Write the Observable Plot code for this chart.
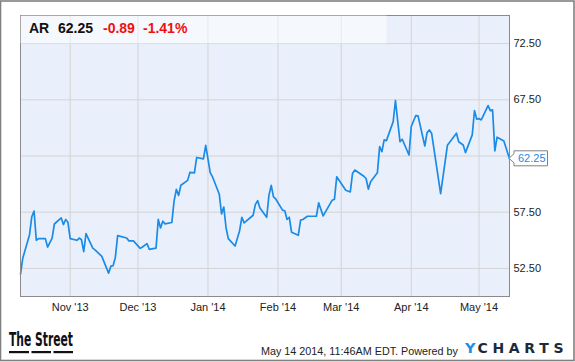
<!DOCTYPE html>
<html><head><meta charset="utf-8">
<script src="https://cdn.jsdelivr.net/npm/d3@7"></script>
<script src="https://cdn.jsdelivr.net/npm/@observablehq/plot@0.6"></script>
<style>
body{margin:0;background:#fff;}
#wrap{position:relative;width:575px;height:362px;overflow:hidden;background:#fff;}
#chart{position:absolute;left:0;top:0;}
#overlay{position:absolute;left:0;top:0;pointer-events:none;}
</style>
</head><body>
<div id="wrap">
  <div id="chart"></div>
  <svg id="overlay" width="575" height="362" xmlns="http://www.w3.org/2000/svg" font-family="'Liberation Sans', Arial, sans-serif">
    <rect x="20.5" y="15.5" width="366" height="28" fill="#ffffff" fill-opacity="0.5"></rect>
    <text x="29" y="33" font-size="14" font-weight="bold" fill="#111">AR</text>
    <text x="58" y="33" font-size="14" font-weight="bold" fill="#111">62.25</text>
    <text x="103" y="33" font-size="14" font-weight="bold" fill="#f01010">-0.89</text>
    <text x="143" y="33" font-size="14" font-weight="bold" fill="#f01010">-1.41%</text>
    <text x="9" y="346" font-size="19.5" font-weight="bold" fill="#111" textLength="64" lengthAdjust="spacingAndGlyphs" font-family="'Liberation Sans Narrow','DejaVu Sans Condensed','Liberation Sans',sans-serif">The Street</text>
    <rect x="9" y="351" width="20" height="2.2" fill="#111"></rect>
    <rect x="31.5" y="351" width="19.5" height="2.2" fill="#111"></rect>
    <rect x="53.5" y="351" width="19.5" height="2.2" fill="#111"></rect>
    <text x="261" y="355" font-size="11" fill="#222" textLength="197" lengthAdjust="spacingAndGlyphs">May 14 2014, 11:46AM EDT.  Powered by</text>
    <text x="465" y="352.5" font-size="14.5" font-weight="bold" fill="#1e8fe8" font-family="'DejaVu Sans', sans-serif">Y</text>
    <text x="477.5" y="352.5" font-size="14" font-weight="bold" fill="#1c2b3c" textLength="86" lengthAdjust="spacing" font-family="'DejaVu Sans', sans-serif">CHARTS</text>
    <rect x="0.5" y="1" width="573.5" height="359.5" fill="none" stroke="#808080" stroke-width="1.6"></rect>
  </svg>
</div>
<script>
// ---- data ----
const dates = [
"2013-10-10","2013-10-11","2013-10-14","2013-10-15","2013-10-16","2013-10-17","2013-10-18","2013-10-21","2013-10-22","2013-10-24",
"2013-10-25","2013-10-28","2013-10-29","2013-10-30","2013-10-31","2013-11-01","2013-11-04","2013-11-05","2013-11-06","2013-11-07",
"2013-11-08","2013-11-11","2013-11-12","2013-11-15","2013-11-18","2013-11-19","2013-11-20","2013-11-21","2013-11-22","2013-11-26",
"2013-11-27","2013-11-29","2013-12-02","2013-12-03","2013-12-05","2013-12-06","2013-12-09","2013-12-10","2013-12-11","2013-12-12",
"2013-12-13","2013-12-16","2013-12-17","2013-12-18","2013-12-19","2013-12-20","2013-12-23","2013-12-24","2013-12-26","2013-12-27",
"2013-12-30","2013-12-31","2014-01-02","2014-01-03","2014-01-06","2014-01-07","2014-01-08","2014-01-09","2014-01-10","2014-01-13",
"2014-01-15","2014-01-16","2014-01-17","2014-01-21","2014-01-22","2014-01-23","2014-01-24","2014-01-27","2014-01-28","2014-01-29",
"2014-01-30","2014-01-31","2014-02-03","2014-02-04","2014-02-05","2014-02-06","2014-02-07","2014-02-10","2014-02-11","2014-02-12",
"2014-02-14","2014-02-18","2014-02-19","2014-02-21","2014-02-25","2014-02-26","2014-02-27","2014-03-03","2014-03-05","2014-03-06",
"2014-03-07","2014-03-11","2014-03-12","2014-03-13","2014-03-14","2014-03-17","2014-03-18","2014-03-19","2014-03-20","2014-03-21",
"2014-03-24","2014-03-25","2014-03-27","2014-03-28","2014-03-31","2014-04-01","2014-04-03","2014-04-04","2014-04-07","2014-04-08",
"2014-04-09","2014-04-10","2014-04-14","2014-04-17","2014-04-21","2014-04-22","2014-04-24","2014-04-25","2014-04-28","2014-04-29",
"2014-04-30","2014-05-01","2014-05-02","2014-05-05","2014-05-06","2014-05-07","2014-05-08","2014-05-09","2014-05-12","2014-05-14T11:46"
];
const prices = [
52.0,53.4,55.5,57.1,57.6,55.0,55.15,55.15,54.4,55.2,
56.45,57.0,56.4,56.85,56.6,55.15,55.0,55.2,55.05,54.0,
55.6,54.3,54.15,53.57,52.08,52.7,52.74,53.5,55.42,55.2,
54.95,54.95,54.28,54.4,54.7,54.2,54.3,56.86,56.1,56.7,
56.46,56.58,58.5,59.53,59.0,59.9,60.33,61.04,61.0,62.37,
62.25,63.45,61.02,60.65,59.1,57.35,57.95,56.12,55.15,54.49,
55.85,57.05,56.55,57.23,58.2,58.52,57.88,57.05,59.02,59.88,
58.87,58.68,57.68,57.63,56.85,57.05,55.72,55.45,56.8,56.85,
57.14,57.14,58.33,57.17,58.57,58.66,60.65,59.45,59.3,60.95,
61.25,60.7,60.5,59.55,60.2,61.0,63.33,62.88,63.93,63.87,
65.56,67.44,63.78,63.99,62.59,65.12,66.1,66.07,63.39,64.58,
64.82,64.53,59.15,63.45,64.53,63.77,63.48,62.8,64.38,66.54,
65.77,65.83,65.71,66.99,66.54,66.6,62.95,64.17,63.84,62.25
];
const monthTicks = ["2013-11-01","2013-12-01","2014-01-01","2014-02-01","2014-03-01","2014-04-01","2014-05-01"];
const monthLabels = ["Nov '13","Dec '13","Jan '14","Feb '14","Mar '14","Apr '14","May '14"];
const yGridTicks = [52.5, 57.5, 62.5, 67.5, 72.5];
const yLabelTicks = [52.5, 57.5, 67.5, 72.5]; // 62.50 is hidden behind the last-value box
const xDomain = ["2013-10-10", "2014-05-14T11:46"];
const yDomain = [50, 75];

const parse = s => new Date(s.length > 10 ? s : s + "T00:00");
const data = dates.map((d, i) => ({date: parse(d), price: prices[i]}));
const tickDates = monthTicks.map(parse);
const last = data[data.length - 1];

const chart = Plot.plot({
  width: 575,
  height: 362,
  marginLeft: 20,
  marginRight: 66,
  marginTop: 15,
  marginBottom: 66,
  style: {background: "transparent", color: "#333", fontFamily: "'Liberation Sans', Arial, sans-serif", fontSize: "11px", overflow: "visible"},
  x: {type: "time", domain: xDomain.map(parse)},
  y: {domain: yDomain},
  marks: [
    Plot.frame({fill: "#eaf0fb", stroke: null}),
    Plot.gridX({ticks: tickDates, stroke: "#d3d3d3", strokeOpacity: 1}),
    Plot.gridY({ticks: yGridTicks, stroke: "#d3d3d3", strokeOpacity: 1}),
    Plot.axisX({ticks: tickDates, tickSize: 0, tickPadding: 7, label: null,
      tickFormat: d => monthLabels[tickDates.findIndex(t => +t === +d)], fill: "#222"}),
    Plot.axisY({anchor: "right", ticks: yLabelTicks, tickSize: 0, tickPadding: 4, label: null,
      tickFormat: d => d.toFixed(2), fill: "#222"}),
    Plot.line(data, {x: "date", y: "price", stroke: "#1a8be6", strokeWidth: 1.7, strokeLinejoin: "round"}),
    Plot.frame({stroke: "#8a8a8a", strokeWidth: 1}),
    Plot.text([last], {x: "date", y: "price", text: d => d.price.toFixed(2), dx: 8.5, textAnchor: "start",
      fill: "#1a8be6", fontSize: 11})
  ]
});
document.getElementById("chart").appendChild(chart);

// pointer box behind the last-value label, placed with the chart's own scales
(function () {
  const svg = chart.tagName.toLowerCase() === "svg" ? chart : chart.querySelector("svg");
  const px = chart.scale("x").apply(last.date);
  const py = chart.scale("y").apply(last.price);
  const ns = "http://www.w3.org/2000/svg";
  const p = document.createElementNS(ns, "path");
  p.setAttribute("d", `M${px},${py}l5,-4.5v-3h33.5v15h-33.5v-3z`);
  p.setAttribute("fill", "#fff");
  p.setAttribute("stroke", "#808080");
  p.setAttribute("stroke-width", "1");
  const textG = svg.querySelector('g[aria-label="text"]');
  if (textG) svg.insertBefore(p, textG); else svg.appendChild(p);
})();
</script>
</body></html>
